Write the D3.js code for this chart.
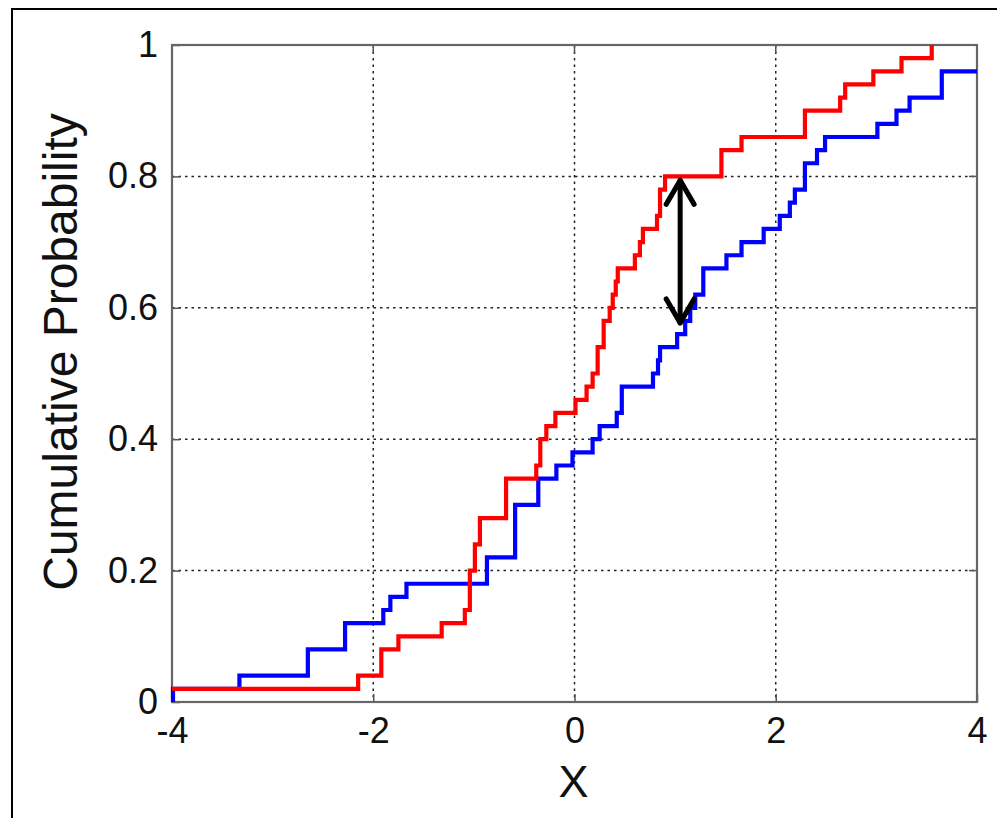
<!DOCTYPE html>
<html>
<head>
<meta charset="utf-8">
<script src="https://cdn.jsdelivr.net/npm/d3@7/dist/d3.min.js"></script>
<style>
  html, body { margin: 0; padding: 0; background: #ffffff; }
  svg { display: block; }
</style>
</head>
<body>
<svg id="chart" width="997" height="818"></svg>
<script>
// ---- data ----
const xTicks = [-4, -2, 0, 2, 4];
const xTickLabels = ["-4", "-2", "0", "2", "4"];
const yTicks = [0, 0.2, 0.4, 0.6, 0.8, 1];
const yTickLabels = ["0", "0.2", "0.4", "0.6", "0.8", "1"];

// red empirical CDF: step positions and value after each step
const redX = [-4, -2.15, -1.92, -1.75, -1.32, -1.09, -1.04, -0.99, -0.94, -0.68, -0.38, -0.34, -0.28, -0.19,
  0.01, 0.12, 0.18, 0.23, 0.29, 0.35, 0.38, 0.41, 0.43, 0.60, 0.65, 0.68, 0.82, 0.85, 0.90,
  1.46, 1.66, 2.29, 2.64, 2.69, 2.97, 3.25, 3.55];
const redY = [0.02, 0.04, 0.08, 0.10, 0.12, 0.14, 0.20, 0.24, 0.28, 0.34, 0.36, 0.40, 0.42, 0.44,
  0.46, 0.48, 0.50, 0.54, 0.58, 0.60, 0.62, 0.64, 0.66, 0.68, 0.70, 0.72, 0.74, 0.78, 0.80,
  0.84, 0.86, 0.90, 0.92, 0.94, 0.96, 0.98, 1.00];

// blue empirical CDF
const blueX = [-3.99, -3.99, -3.33, -2.65, -2.28, -1.90, -1.83, -1.67, -0.87, -0.59, -0.36, -0.18, -0.02,
  0.18, 0.25, 0.42, 0.47, 0.78, 0.83, 0.85, 1.02, 1.10, 1.15, 1.20, 1.28, 1.51, 1.66, 1.88, 2.04, 2.14, 2.19,
  2.29, 2.41, 2.49, 3.01, 3.20, 3.33, 3.65];
const blueY = [0, 0.02, 0.04, 0.08, 0.12, 0.14, 0.16, 0.18, 0.22, 0.30, 0.34, 0.36, 0.38,
  0.40, 0.42, 0.44, 0.48, 0.50, 0.52, 0.54, 0.56, 0.58, 0.60, 0.62, 0.66, 0.68, 0.70, 0.72, 0.74, 0.76, 0.78,
  0.82, 0.84, 0.86, 0.88, 0.90, 0.92, 0.96];

// double arrow marking the largest gap
const arrowX = [1.05, 1.05];
const arrowY = [0.797, 0.574];

// ---- layout ----
const svg = d3.select("#chart");
const mLeft = 172, mRight = 977, mTop = 45, mBottom = 702;
const x = d3.scaleLinear().domain([-4, 4]).range([mLeft, mRight]);
const y = d3.scaleLinear().domain([0, 1]).range([mBottom, mTop]);
const font = "Arial, 'Liberation Sans', Helvetica, sans-serif";

// outer frame (extends past the right/bottom edge)
svg.append("rect").attr("x", 12).attr("y", 9).attr("width", 1010).attr("height", 830)
  .attr("fill", "#fff").attr("stroke", "#000").attr("stroke-width", 2);

// plot background
svg.append("rect").attr("x", mLeft).attr("y", mTop).attr("width", mRight - mLeft).attr("height", mBottom - mTop)
  .attr("fill", "#fff");

// grid
const grid = svg.append("g");
grid.selectAll("line.v").data(xTicks.slice(1, -1)).join("line")
  .attr("x1", d => x(d)).attr("x2", d => x(d)).attr("y1", mTop).attr("y2", mBottom)
  .attr("stroke", "#222").attr("stroke-width", 1.5).attr("stroke-dasharray", "2.5,4");
grid.selectAll("line.h").data(yTicks.slice(1, -1)).join("line")
  .attr("y1", d => y(d)).attr("y2", d => y(d)).attr("x1", mLeft).attr("x2", mRight)
  .attr("stroke", "#222").attr("stroke-width", 1.5).attr("stroke-dasharray", "2.5,4");

// axes
const xAxis = d3.axisBottom(x).tickValues(xTicks).tickFormat((d, i) => xTickLabels[i])
  .tickSizeInner(-8).tickSizeOuter(0).tickPadding(15);
const yAxis = d3.axisLeft(y).tickValues(yTicks).tickFormat((d, i) => yTickLabels[i])
  .tickSizeInner(-8).tickSizeOuter(0).tickPadding(14);

const gx = svg.append("g").attr("transform", `translate(0,${mBottom})`).call(xAxis);
const gy = svg.append("g").attr("transform", `translate(${mLeft},0)`).call(yAxis);
[gx, gy].forEach(g => {
  g.select(".domain").remove();
  g.selectAll(".tick line").attr("stroke", "#555").attr("stroke-width", 1.5);
  g.selectAll(".tick text").attr("fill", "#111").style("font-family", font).style("font-size", "36px");
});
// top / right ticks
svg.append("g").selectAll("line").data(xTicks).join("line")
  .attr("x1", d => x(d)).attr("x2", d => x(d)).attr("y1", mTop).attr("y2", mTop + 8)
  .attr("stroke", "#555").attr("stroke-width", 1.5);
svg.append("g").selectAll("line").data(yTicks).join("line")
  .attr("y1", d => y(d)).attr("y2", d => y(d)).attr("x1", mRight).attr("x2", mRight - 8)
  .attr("stroke", "#555").attr("stroke-width", 1.5);

// axis box
svg.append("rect").attr("x", mLeft).attr("y", mTop).attr("width", mRight - mLeft).attr("height", mBottom - mTop)
  .attr("fill", "none").attr("stroke", "#666").attr("stroke-width", 2.2);

// clip for the curves
svg.append("clipPath").attr("id", "clip").append("rect")
  .attr("x", mLeft - 3).attr("y", mTop - 3).attr("width", mRight - mLeft + 6).attr("height", mBottom - mTop + 6);

const line = d3.line().x(d => x(d[0])).y(d => y(d[1])).curve(d3.curveStepAfter);
const redPts = redX.map((v, i) => [v, redY[i]]);
const bluePts = blueX.map((v, i) => [v, blueY[i]]);
bluePts.push([x.domain()[1], blueY[blueY.length - 1]]);

const curves = svg.append("g").attr("clip-path", "url(#clip)");
curves.append("path").attr("d", line(bluePts)).attr("fill", "none")
  .attr("stroke", "#0000ff").attr("stroke-width", 4.2).attr("stroke-linejoin", "miter");
curves.append("path").attr("d", line(redPts)).attr("fill", "none")
  .attr("stroke", "#ff0000").attr("stroke-width", 4.2).attr("stroke-linejoin", "miter");

// double arrow
const ax = x(arrowX[0]), ay1 = y(arrowY[0]), ay2 = y(arrowY[1]);
const hw = 14, hl = 26;
const ag = svg.append("g").attr("fill", "none").attr("stroke", "#000").attr("stroke-width", 5)
  .attr("stroke-linecap", "round").attr("stroke-linejoin", "round");
ag.append("line").attr("x1", ax).attr("x2", ax).attr("y1", ay1 + 2).attr("y2", ay2 - 2);
ag.append("polyline").attr("points", `${ax - hw},${ay1 + hl} ${ax},${ay1 + 2} ${ax + hw},${ay1 + hl}`);
ag.append("polyline").attr("points", `${ax - hw},${ay2 - hl} ${ax},${ay2 - 2} ${ax + hw},${ay2 - hl}`);

// axis titles
svg.append("text").attr("x", (mLeft + mRight) / 2 - 1).attr("y", 797).attr("text-anchor", "middle")
  .style("font-family", font).style("font-size", "45px").attr("fill", "#111").text("X");
svg.append("text").attr("transform", `translate(77,${352}) rotate(-90)`).attr("text-anchor", "middle")
  .style("font-family", font).style("font-size", "48px").attr("fill", "#111").text("Cumulative Probability");
</script>
</body>
</html>
